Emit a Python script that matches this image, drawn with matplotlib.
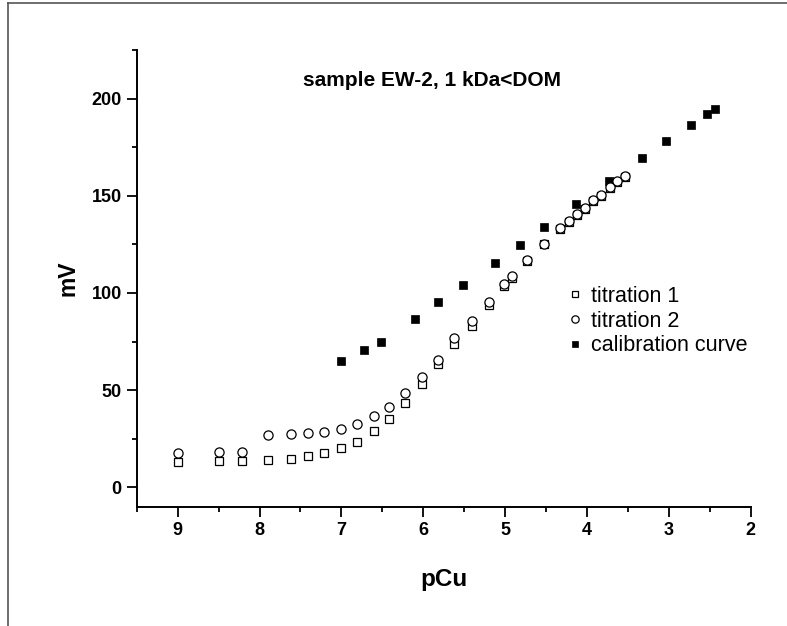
import matplotlib
matplotlib.use("Agg")
import matplotlib.pyplot as plt
from matplotlib.lines import Line2D
from matplotlib.ticker import MultipleLocator

plt.rcParams['font.family'] = ['Liberation Sans', 'DejaVu Sans']

# Data
t1_x = [9.0, 8.5, 8.21, 7.9, 7.61, 7.41, 7.21, 7.01, 6.81, 6.6, 6.42, 6.22, 6.01, 5.82,
        5.62, 5.4, 5.2, 5.02, 4.92, 4.73, 4.53, 4.33, 4.22, 4.12, 4.03, 3.93, 3.83, 3.72, 3.63, 3.54]
t1_y = [13.1, 13.3, 13.3, 14.0, 14.7, 16.1, 17.5, 20.0, 23.3, 29.1, 35.1, 43.5, 52.9, 63.3,
        73.6, 83.2, 94.0, 103.4, 107.5, 116.5, 125.0, 132.8, 136.5, 140.2, 143.3, 147.1, 150.1,
        153.9, 157.0, 159.9]
t2_x = t1_x
t2_y = [17.5, 18.0, 18.3, 26.9, 27.4, 27.7, 28.2, 29.8, 32.4, 36.8, 41.4, 48.3, 56.8, 65.7,
        76.6, 85.4, 95.3, 104.6, 108.6, 117.1, 125.3, 133.3, 137.0, 140.7, 143.8, 147.6, 150.6,
        154.4, 157.5, 160.4]
cal_x = [7.0, 6.72, 6.52, 6.1, 5.82, 5.51, 5.12, 4.82, 4.52, 4.14, 3.73, 3.33, 3.03, 2.73, 2.53, 2.44]
cal_y = [65.0, 70.5, 75.0, 86.5, 95.3, 104.0, 115.4, 124.8, 133.9, 145.9, 157.4, 169.3, 178.0,
         186.6, 192.1, 194.7]

labels = ["titration 1", "titration 2", "calibration curve"]
title = "sample EW-2, 1 kDa<DOM"

fig = plt.figure(figsize=(7.87, 6.26), dpi=100)
ax = fig.add_axes([0.1737, 0.1906, 0.954 - 0.1737, 0.7295])

ax.plot(t1_x, t1_y, linestyle='none', marker='s', ms=5.6, mfc='white', mec='black', mew=0.9, label=labels[0], zorder=3)
ax.plot(t2_x, t2_y, linestyle='none', marker='o', ms=6.6, mfc='white', mec='black', mew=0.9, label=labels[1], zorder=4)
ax.plot(cal_x, cal_y, linestyle='none', marker='s', ms=6.2, mfc='black', mec='black', mew=0.5, label=labels[2], zorder=2)

ax.set_xlim(9.5, 2)
ax.set_ylim(-10, 225)
ax.xaxis.set_major_locator(MultipleLocator(1))
ax.xaxis.set_minor_locator(MultipleLocator(0.5))
ax.yaxis.set_major_locator(MultipleLocator(50))
ax.yaxis.set_minor_locator(MultipleLocator(25))
ax.spines['top'].set_visible(False)
ax.spines['right'].set_visible(False)
for s in ('left', 'bottom'):
    ax.spines[s].set_linewidth(1.4)
ax.tick_params(which='major', direction='out', length=7.2, width=1.3, labelsize=13, pad=3.5)
ax.tick_params(which='minor', direction='out', length=3.8, width=1.3)
for lab in ax.get_xticklabels() + ax.get_yticklabels():
    lab.set_fontweight('bold')

ax.set_xlabel('pCu', fontsize=17.5, fontweight='bold', labelpad=21)
ax.set_ylabel('mV', fontsize=16.5, fontweight='bold', labelpad=9)

fig.text(432 / 787, 1 - 80 / 626, title, ha='center', va='center', fontsize=15, fontweight='bold')

ax.legend(loc='upper left', bbox_to_anchor=(567 / 787, 1 - 286 / 626), bbox_transform=fig.transFigure,
          frameon=False, fontsize=15.5, handletextpad=0.4, labelspacing=0.17, handlelength=0.7,
          borderpad=0, borderaxespad=0, markerscale=0.8)

# figure frame lines (left and top)
fig.add_artist(Line2D([8 / 787, 8 / 787], [0, 1 - 3 / 626], transform=fig.transFigure, color='#555555', lw=1.2))
fig.add_artist(Line2D([8 / 787, 1], [1 - 3 / 626, 1 - 3 / 626], transform=fig.transFigure, color='#555555', lw=1.2))

fig.savefig('out.png', dpi=100)
